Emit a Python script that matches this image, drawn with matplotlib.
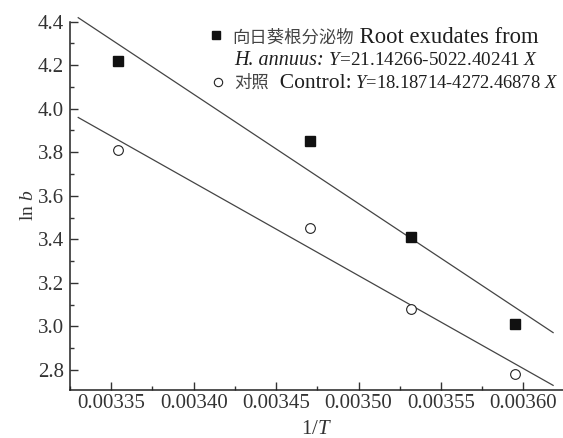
import matplotlib
matplotlib.use("Agg")
import matplotlib.pyplot as plt
from matplotlib.ticker import MultipleLocator, FormatStrFormatter
import numpy as np

plt.rcParams['font.family'] = ['Liberation Serif', 'Noto Sans CJK SC']
plt.rcParams['mathtext.fontset'] = 'custom'
plt.rcParams['mathtext.rm'] = 'Liberation Serif'
plt.rcParams['mathtext.it'] = 'Liberation Serif:italic'

# data: 1/T for 25, 15, 10, 5 degC
inv_t = [1 / 298.15, 1 / 288.15, 1 / 283.15, 1 / 278.15]
ln_b_annuus = [4.22, 3.85, 3.41, 3.01]
ln_b_control = [3.81, 3.45, 3.08, 2.78]

# fitted lines Y = a + b X
fit_annuus = (21.14266, -5022.40241)
fit_control = (18.18714, -4272.46878)
fit_x = [0.00333, 0.003618]

ink = '#1e1e1e'

fig = plt.figure(figsize=(5.63, 4.38), dpi=100)
ax = fig.add_axes([0.1243, 0.1096, 0.8757, 0.841])

xs = np.array(fit_x)
ax.plot(xs, fit_annuus[0] + fit_annuus[1] * xs, color='#444444', lw=0.9, clip_on=False)
ax.plot(xs, fit_control[0] + fit_control[1] * xs, color='#444444', lw=0.9, clip_on=False)
ax.plot(inv_t, ln_b_annuus, 's', color='#111111', ms=6.5, linestyle='none')
ax.plot(inv_t, ln_b_control, 'o', mfc='white', mec='#222222', mew=0.8, ms=7, linestyle='none')

ax.set_xlim(0.003325, 0.003624)
ax.set_ylim(2.708, 4.4)
ax.xaxis.set_major_locator(MultipleLocator(0.00005))
ax.xaxis.set_minor_locator(MultipleLocator(0.000025))
ax.xaxis.set_major_formatter(FormatStrFormatter('%.5f'))
ax.yaxis.set_major_locator(MultipleLocator(0.2))
ax.yaxis.set_minor_locator(MultipleLocator(0.1))
ax.yaxis.set_major_formatter(FormatStrFormatter('%.1f'))
ax.tick_params(which='both', direction='in', color='#333333', labelcolor='#333333',
               labelsize=15, width=1.0)
ax.tick_params(axis='x', pad=3)
ax.tick_params(axis='y', pad=4.5)
ax.tick_params(which='major', length=6)
ax.tick_params(which='minor', length=3)
for s in ['top', 'right']:
    ax.spines[s].set_visible(False)
for s in ['left', 'bottom']:
    ax.spines[s].set_linewidth(1.1)
    ax.spines[s].set_color('#222222')

ax.set_xlabel('1/$T$', fontsize=15, color='#333333', labelpad=5)
ax.set_ylabel('ln $b$', fontsize=14, color='#333333', labelpad=0)

# legend, built from pieces so the Chinese and the formulas can mix fonts
renderer = fig.canvas.get_renderer()
W = fig.bbox.width


def text_row(x, y, pieces):
    for s, kw in pieces:
        t = fig.text(x, y, s, va='baseline', ha='left', **kw)
        x = t.get_window_extent(renderer).x1 / W


cn = dict(fontsize=12.5, color='#444444')
en = dict(fontsize=16.3, color=ink)
en_it = dict(fontsize=14.5, color=ink, style='italic')
eq2 = dict(fontsize=13.8, color=ink)
ctrl = dict(fontsize=15.5, color=ink)
eq3 = dict(fontsize=13.3, color=ink)

fig.lines.append(plt.Line2D([216 / 563], [1 - 35 / 438], marker='s', color='#111111',
                            ms=6, linestyle='none', transform=fig.transFigure))
fig.lines.append(plt.Line2D([218 / 563], [1 - 82 / 438], marker='o', mfc='white',
                            mec='#222222', mew=0.8, ms=6, linestyle='none',
                            transform=fig.transFigure))

text_row(232 / 563, 1 - 43 / 438, [('向日葵根分泌物', cn), (' Root exudates from', en)])
text_row(234 / 563, 1 - 65 / 438, [('H. annuus:', en_it), (' $Y$=21.14266-5022.40241 $X$', eq2)])
text_row(234 / 563, 1 - 88 / 438, [('对照', cn), ('  Control:', ctrl), (' $Y$=18.18714-4272.46878 $X$', eq3)])

fig.savefig('out.png', dpi=100)
